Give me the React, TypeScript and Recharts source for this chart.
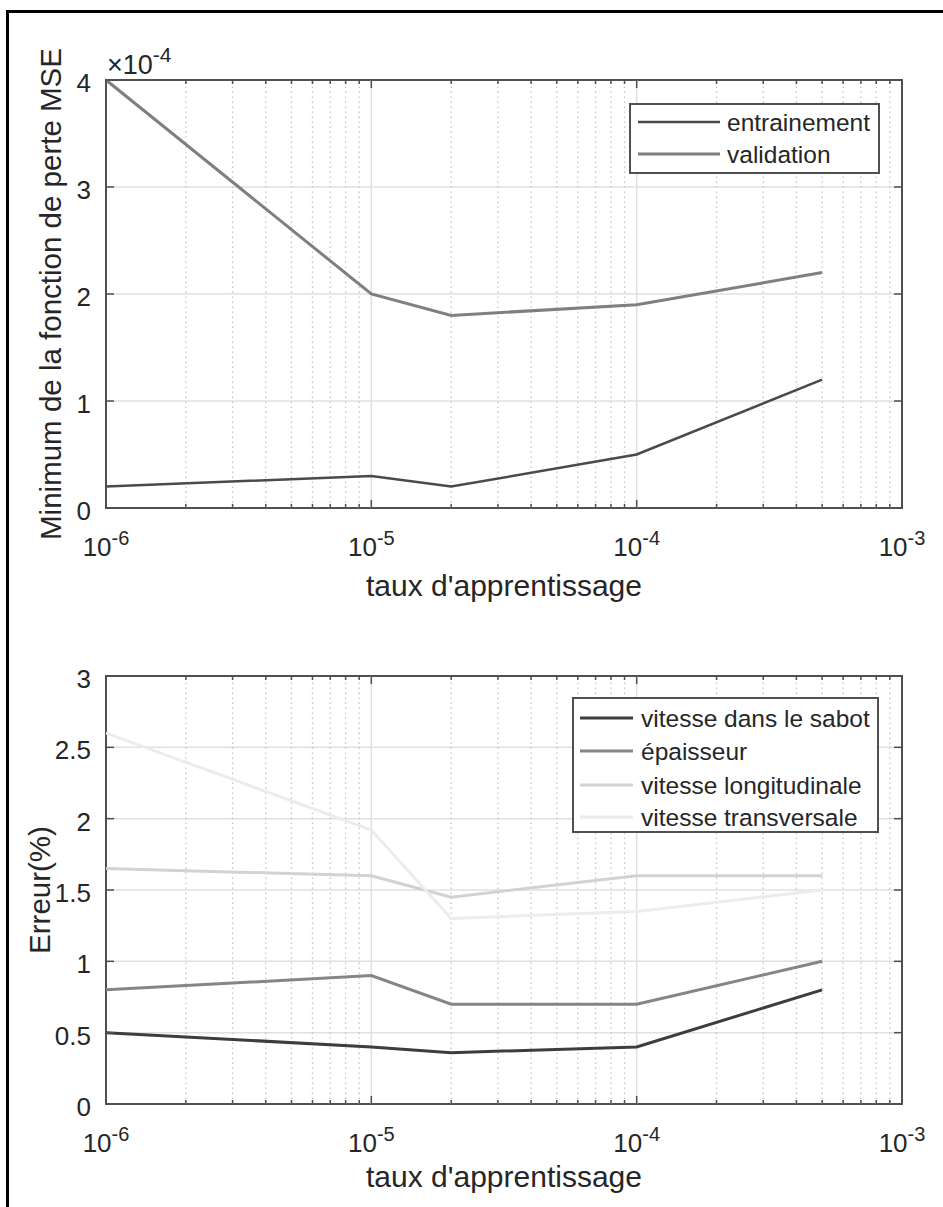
import React from 'react';
import { LineChart, Line, XAxis, YAxis, CartesianGrid, ReferenceLine, ReferenceArea, Legend } from 'recharts';

// learning rates (x values)
const learningRates = [1e-6, 1e-5, 2e-5, 1e-4, 5e-4];
// top chart: minimum MSE loss (x 10^-4)
const trainLoss = [0.2, 0.3, 0.2, 0.5, 1.2];
const valLoss = [4.0, 2.0, 1.8, 1.9, 2.2];
// bottom chart: error (%)
const errSabot = [0.5, 0.4, 0.36, 0.4, 0.8];
const errEpaisseur = [0.8, 0.9, 0.7, 0.7, 1.0];
const errLongitudinale = [1.65, 1.6, 1.45, 1.6, 1.6];
const errTransversale = [2.6, 1.92, 1.3, 1.35, 1.5];

// series names
const lossNames = ['entrainement', 'validation'];
const errorNames = ['vitesse dans le sabot', 'épaisseur', 'vitesse longitudinale', 'vitesse transversale'];

// ticks
const decadeTicks = [1e-6, 1e-5, 1e-4, 1e-3];
const decadeExponents = ['-6', '-5', '-4', '-3'];
const minorTicks = [
  2e-6, 3e-6, 4e-6, 5e-6, 6e-6, 7e-6, 8e-6, 9e-6,
  2e-5, 3e-5, 4e-5, 5e-5, 6e-5, 7e-5, 8e-5, 9e-5,
  2e-4, 3e-4, 4e-4, 5e-4, 6e-4, 7e-4, 8e-4, 9e-4,
];
const lossTicks = [0, 1, 2, 3, 4];
const lossTickLabels = ['0', '1', '2', '3', '4'];
const errorTicks = [0, 0.5, 1, 1.5, 2, 2.5, 3];
const errorTickLabels = ['0', '0.5', '1', '1.5', '2', '2.5', '3'];

const allXTicks = [...decadeTicks, ...minorTicks].sort((a, b) => a - b);

const lossData = learningRates.map((lr, i) => ({ lr, train: trainLoss[i], val: valLoss[i] }));
const errorData = learningRates.map((lr, i) => ({
  lr,
  sabot: errSabot[i],
  epaisseur: errEpaisseur[i],
  longi: errLongitudinale[i],
  trans: errTransversale[i],
}));

const AXIS_COLOR = '#505050';
const TEXT_COLOR = '#262626';
const GRID_COLOR = '#e0e0e0';
const MINOR_GRID_COLOR = '#c4c4c4';
const FONT = '"Liberation Sans", Arial, Helvetica, sans-serif';

const W = 943;
const PLOT_LEFT = 106;
const PLOT_RIGHT = 902;
const TICK_FONT = 26;
const SUP_FONT = 20;

function XTick(props: any) {
  const { x, payload, top, bottom } = props;
  const v = payload.value;
  const i = decadeTicks.indexOf(v);
  const len = i >= 0 ? 8 : 4;
  return (
    <g>
      <line x1={x} x2={x} y1={bottom} y2={bottom - len} stroke={AXIS_COLOR} strokeWidth={1.5} />
      <line x1={x} x2={x} y1={top} y2={top + len} stroke={AXIS_COLOR} strokeWidth={1.5} />
      {i >= 0 && (
        <text x={x} y={bottom + 48} textAnchor="middle" fontSize={TICK_FONT} fill={TEXT_COLOR} fontFamily={FONT}>
          10
          <tspan dy={-11} fontSize={SUP_FONT}>{decadeExponents[i]}</tspan>
        </text>
      )}
    </g>
  );
}

function YTick(props: any) {
  const { y, payload, ticks, labels } = props;
  const i = ticks.indexOf(payload.value);
  return (
    <g>
      <line x1={PLOT_LEFT} x2={PLOT_LEFT + 8} y1={y} y2={y} stroke={AXIS_COLOR} strokeWidth={1.5} />
      <line x1={PLOT_RIGHT} x2={PLOT_RIGHT - 8} y1={y} y2={y} stroke={AXIS_COLOR} strokeWidth={1.5} />
      <text x={PLOT_LEFT - 15} y={y + 12} textAnchor="end" fontSize={TICK_FONT} fill={TEXT_COLOR} fontFamily={FONT}>
        {labels[i]}
      </text>
    </g>
  );
}

function XTitle(props: any) {
  const { viewBox, text, dy } = props;
  const cx = viewBox.x + viewBox.width / 2;
  return (
    <text x={cx} y={viewBox.y + dy} textAnchor="middle" fontSize={30} fill={TEXT_COLOR} fontFamily={FONT}>
      {text}
    </text>
  );
}

function YTitle(props: any) {
  const { viewBox, text, multiplier, baseX } = props;
  const cy = viewBox.y + viewBox.height / 2;
  return (
    <g>
      <text
        transform={`translate(${baseX}, ${cy}) rotate(-90)`}
        textAnchor="middle"
        fontSize={29.5}
        fill={TEXT_COLOR}
        fontFamily={FONT}
      >
        {text}
      </text>
      {multiplier && (
        <text x={PLOT_LEFT + 1} y={viewBox.y - 6} fontSize={27} fill={TEXT_COLOR} fontFamily={FONT}>
          ×10
          <tspan dy={-12} fontSize={21}>{multiplier}</tspan>
        </text>
      )}
    </g>
  );
}

function LegendBox(props: any) {
  const { payload, names, width, height, lineX1, lineX2, textX, rows } = props;
  const items = [...(payload || [])].sort(
    (a: any, b: any) => names.indexOf(a.value) - names.indexOf(b.value)
  );
  return (
    <svg width={width} height={height} style={{ display: 'block' }}>
      <rect x={1} y={1} width={width - 2} height={height - 2} fill="#ffffff" stroke={AXIS_COLOR} strokeWidth={2} />
      {items.map((p: any, i: number) => (
        <g key={i}>
          <line
            x1={lineX1}
            x2={lineX2}
            y1={rows[i]}
            y2={rows[i]}
            stroke={p.color}
            strokeWidth={(p.payload && p.payload.strokeWidth) || 2.5}
          />
          <text x={textX} y={rows[i] + 8.5} fontSize={24.5} fill={TEXT_COLOR} fontFamily={FONT}>
            {p.value}
          </text>
        </g>
      ))}
    </svg>
  );
}

export default function App() {
  const topH = 640;
  const topPlotTop = 80;
  const topPlotBottom = 508;
  const botH = 607;
  const botPlotTop = 76;
  const botPlotBottom = 504;

  const verticalGrid = (key: string) => [
    ...minorTicks.map((t) => (
      <ReferenceLine
        key={`${key}-m-${t}`}
        x={t}
        stroke={MINOR_GRID_COLOR}
        strokeWidth={1.3}
        strokeDasharray="1.5 3.5"
      />
    )),
    ...decadeTicks.slice(1, 3).map((t) => (
      <ReferenceLine key={`${key}-M-${t}`} x={t} stroke={GRID_COLOR} strokeWidth={1.5} />
    )),
  ];

  return (
    <div
      style={{
        position: 'absolute',
        left: 0,
        top: 0,
        width: W,
        height: 1207,
        overflow: 'hidden',
        background: '#ffffff',
      }}
    >
      <div
        style={{
          position: 'absolute',
          left: 6,
          top: 10,
          width: 1000,
          height: 1300,
          border: '3px solid #000',
        }}
      />
      <div style={{ position: 'absolute', left: 0, top: 0, width: W, height: topH }}>
        <LineChart
          width={W}
          height={topH}
          data={lossData}
          margin={{ top: topPlotTop, right: W - PLOT_RIGHT, left: 0, bottom: 0 }}
        >
          <CartesianGrid vertical={false} stroke={GRID_COLOR} strokeWidth={1.5} />
          {verticalGrid('top')}
          <XAxis
            dataKey="lr"
            type="number"
            scale="log"
            domain={[1e-6, 1e-3]}
            allowDataOverflow
            ticks={allXTicks}
            interval={0}
            height={topH - topPlotBottom}
            axisLine={false}
            tickLine={false}
            tick={(p: any) => <XTick {...p} top={topPlotTop} bottom={topPlotBottom} />}
            label={<XTitle text="taux d'apprentissage" dy={88} />}
          />
          <YAxis
            type="number"
            domain={[0, 4]}
            ticks={lossTicks}
            interval={0}
            width={PLOT_LEFT}
            axisLine={false}
            tickLine={false}
            tick={(p: any) => <YTick {...p} ticks={lossTicks} labels={lossTickLabels} />}
            label={<YTitle text="Minimum de la fonction de perte MSE" multiplier="-4" baseX={61} />}
          />
          <ReferenceArea
            x1={1e-6}
            x2={1e-3}
            y1={0}
            y2={4}
            fill="none"
            fillOpacity={0}
            stroke={AXIS_COLOR}
            strokeWidth={2}
          />
          <Line
            type="linear"
            dataKey="train"
            name={lossNames[0]}
            stroke="#4a4a4a"
            strokeWidth={2.5}
            dot={false}
            isAnimationActive={false}
          />
          <Line
            type="linear"
            dataKey="val"
            name={lossNames[1]}
            stroke="#7f7f7f"
            strokeWidth={3}
            dot={false}
            isAnimationActive={false}
          />
          <Legend
            layout="vertical"
            align="center"
            verticalAlign="middle"
            wrapperStyle={{ position: 'absolute', left: 629, top: 103, width: 251, height: 71 }}
            content={(p: any) => (
              <LegendBox
                payload={p.payload}
                names={lossNames}
                width={251}
                height={71}
                lineX1={9}
                lineX2={91}
                textX={98}
                rows={[19, 51]}
              />
            )}
          />
        </LineChart>
      </div>
      <div style={{ position: 'absolute', left: 0, top: 600, width: W, height: botH }}>
        <LineChart
          width={W}
          height={botH}
          data={errorData}
          margin={{ top: botPlotTop, right: W - PLOT_RIGHT, left: 0, bottom: 0 }}
        >
          <CartesianGrid vertical={false} stroke={GRID_COLOR} strokeWidth={1.5} />
          {verticalGrid('bot')}
          <XAxis
            dataKey="lr"
            type="number"
            scale="log"
            domain={[1e-6, 1e-3]}
            allowDataOverflow
            ticks={allXTicks}
            interval={0}
            height={botH - botPlotBottom}
            axisLine={false}
            tickLine={false}
            tick={(p: any) => <XTick {...p} top={botPlotTop} bottom={botPlotBottom} />}
            label={<XTitle text="taux d'apprentissage" dy={83} />}
          />
          <YAxis
            type="number"
            domain={[0, 3]}
            ticks={errorTicks}
            interval={0}
            width={PLOT_LEFT}
            axisLine={false}
            tickLine={false}
            tick={(p: any) => <YTick {...p} ticks={errorTicks} labels={errorTickLabels} />}
            label={<YTitle text="Erreur(%)" baseX={50} />}
          />
          <ReferenceArea
            x1={1e-6}
            x2={1e-3}
            y1={0}
            y2={3}
            fill="none"
            fillOpacity={0}
            stroke={AXIS_COLOR}
            strokeWidth={2}
          />
          <Line type="linear" dataKey="sabot" name={errorNames[0]} stroke="#3d3d3d" strokeWidth={3} dot={false} isAnimationActive={false} />
          <Line type="linear" dataKey="epaisseur" name={errorNames[1]} stroke="#858585" strokeWidth={3} dot={false} isAnimationActive={false} />
          <Line type="linear" dataKey="longi" name={errorNames[2]} stroke="#d2d2d2" strokeWidth={3} dot={false} isAnimationActive={false} />
          <Line type="linear" dataKey="trans" name={errorNames[3]} stroke="#ececec" strokeWidth={3} dot={false} isAnimationActive={false} />
          <Legend
            layout="vertical"
            align="center"
            verticalAlign="middle"
            wrapperStyle={{ position: 'absolute', left: 572, top: 97, width: 307, height: 136 }}
            content={(p: any) => (
              <LegendBox
                payload={p.payload}
                names={errorNames}
                width={307}
                height={136}
                lineX1={8}
                lineX2={61}
                textX={69}
                rows={[21, 54, 88, 120]}
              />
            )}
          />
        </LineChart>
      </div>
    </div>
  );
}
